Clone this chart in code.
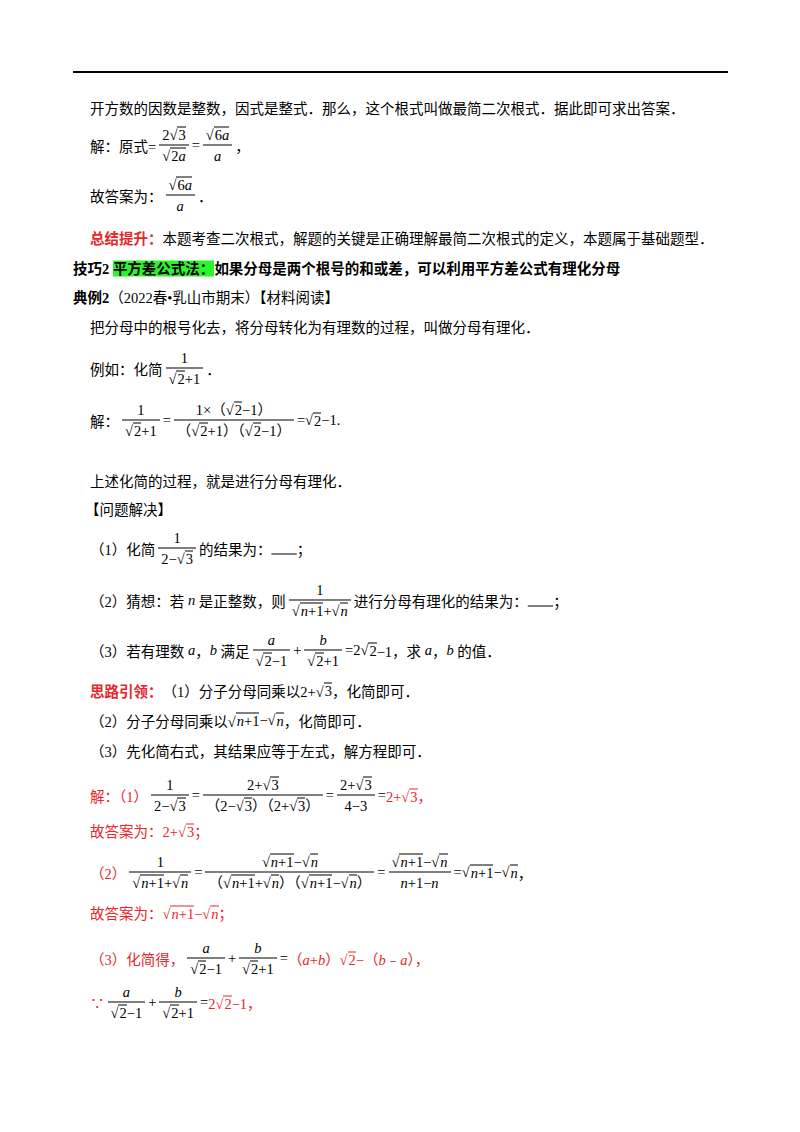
<!DOCTYPE html>
<html><head><meta charset="utf-8">
<script src="https://cdn.jsdelivr.net/npm/chart.js@4"></script>
<style>
body{margin:0;width:800px;height:1132px;background:#fff;font-family:"Liberation Serif","Noto Sans CJK SC",serif;font-size:14.5px;color:#000;position:relative}
.rule{position:absolute;left:73px;top:71px;width:655px;height:2px;background:#000}
.ln{position:absolute;white-space:nowrap;transform:translateY(-50%);display:flex;align-items:center}
.red{color:#e8262a}.b{font-weight:bold}.hl{background:#2cf52c}
.fr{display:inline-flex;flex-direction:column;align-items:stretch;margin:0 3px;text-align:center}
.num{border-bottom:1px solid #000;padding:0 3px 1px;line-height:18px}
.den{padding:1px 3px 0;line-height:18px}
.sq{border-top:1px solid currentColor;padding-left:1px;line-height:14px;display:inline-block}
i{font-family:"Liberation Serif",serif}
</style></head><body>
<div class="rule"></div>
<div id="page"></div>
<script>
// helpers for radicals and fractions
const S = x => `√<span class="sq">${x}</span>`;
const F = (n, d) => `<span class="fr"><span class="num">${n}</span><span class="den">${d}</span></span>`;
const R = t => `<span class="red">${t}</span>`;
const s2m = `${S('2')}−1`, s2p = `${S('2')}+1`;
const sn1 = `${S('<i>n</i>+1')}`, sn = `${S('<i>n</i>')}`;

const lineX = [90,90,90,90,73,73,90,90,90,90,85,90,90,90,90,90,90,90,90,90,90,90,90];
const lineY = [107,145,195,237,267,296,326,368,420,480,508,548,600,650,690,720,750,795,830,872,912,958,1002];
const lineText = [
  '开方数的因数是整数，因式是整式．那么，这个根式叫做最简二次根式．据此即可求出答案．',
  `解：原式=${F('2'+S('3'), S('2<i>a</i>'))}=${F(S('6<i>a</i>'),'<i>a</i>')}，`,
  `故答案为：${F(S('6<i>a</i>'),'<i>a</i>')}．`,
  `<span class="red b">总结提升：</span>本题考查二次根式，解题的关键是正确理解最简二次根式的定义，本题属于基础题型．`,
  `<span class="b">技巧2&nbsp;<span class="hl">平方差公式法：</span>如果分母是两个根号的和或差，可以利用平方差公式有理化分母</span>`,
  `<span class="b">典例2</span>（2022春•乳山市期末）【材料阅读】`,
  '把分母中的根号化去，将分母转化为有理数的过程，叫做分母有理化．',
  `例如：化简${F('1', s2p)}．`,
  `解：${F('1', s2p)}=${F('1×（'+s2m+'）','（'+s2p+'）（'+s2m+'）')}=${s2m}.`,
  '上述化简的过程，就是进行分母有理化．',
  '【问题解决】',
  `（1）化简${F('1','2−'+S('3'))}的结果为：<u>&nbsp;&nbsp;&nbsp;&nbsp;&nbsp;&nbsp;&nbsp;</u>；`,
  `（2）猜想：若&nbsp;<i>n</i>&nbsp;是正整数，则${F('1', sn1+'+'+sn)}进行分母有理化的结果为：<u>&nbsp;&nbsp;&nbsp;&nbsp;&nbsp;&nbsp;&nbsp;</u>；`,
  `（3）若有理数&nbsp;<i>a</i>，<i>b</i>&nbsp;满足${F('<i>a</i>', s2m)}+${F('<i>b</i>', s2p)}=2${S('2')}−1，求&nbsp;<i>a</i>，<i>b</i>&nbsp;的值．`,
  `${R('<span class="b">思路引领：</span>')}（1）分子分母同乘以2+${S('3')}，化简即可．`,
  `（2）分子分母同乘以${sn1}−${sn}，化简即可．`,
  '（3）先化简右式，其结果应等于左式，解方程即可．',
  `${R('解：（1）')}${F('1','2−'+S('3'))}=${F('2+'+S('3'),'（2−'+S('3')+'）（2+'+S('3')+'）')}=${F('2+'+S('3'),'4−3')}=${R('2+'+S('3')+'，')}`,
  R(`故答案为：2+${S('3')}；`),
  `${R('（2）')}${F('1', sn1+'+'+sn)}=${F(sn1+'−'+sn, '（'+sn1+'+'+sn+'）（'+sn1+'−'+sn+'）')}=${F(sn1+'−'+sn,'<i>n</i>+1−<i>n</i>')}=${sn1}−${sn}，`,
  R(`故答案为：${sn1}−${sn}；`),
  `${R('（3）化简得，')}${F('<i>a</i>', s2m)}+${F('<i>b</i>', s2p)}=${R('（<i>a</i>+<i>b</i>）'+S('2')+'−（<i>b</i>﹣<i>a</i>），')}`,
  `${R('∵')}${F('<i>a</i>', s2m)}+${F('<i>b</i>', s2p)}=${R('2'+S('2')+'−1，')}`
];

const page = document.getElementById('page');
lineText.forEach((t, i) => {
  const d = document.createElement('div');
  d.className = 'ln';
  d.style.left = lineX[i] + 'px';
  d.style.top = lineY[i] + 'px';
  d.innerHTML = t;
  page.appendChild(d);
});
</script>
</body></html>
